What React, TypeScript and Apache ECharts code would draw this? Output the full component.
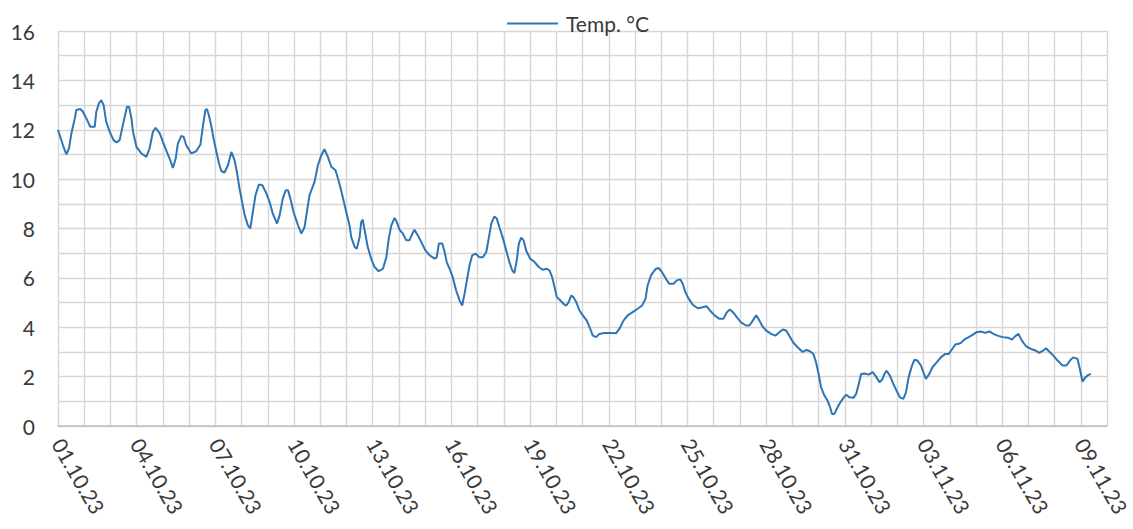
import React, { useEffect, useRef } from "react";
import * as echarts from "echarts";

// Day offset from 01.10.23 00:00 (in days) and temperature (°C)
const days = [
  0.0, 0.19, 0.32, 0.42, 0.51, 0.64, 0.7, 0.85, 0.95, 1.08, 1.23, 1.4, 1.46, 1.56, 1.65, 1.74, 1.84, 1.97,
  2.12, 2.23, 2.35, 2.5, 2.63, 2.71, 2.8, 2.86, 2.99, 3.18, 3.37, 3.49, 3.62, 3.72, 3.88, 4.0, 4.15, 4.28,
  4.38, 4.49, 4.57, 4.7, 4.79, 4.89, 5.08, 5.27, 5.43, 5.53, 5.62, 5.68, 5.75, 5.85, 5.93, 6.04, 6.14, 6.23,
  6.35, 6.48, 6.61, 6.73, 6.82, 6.92, 7.03, 7.12, 7.24, 7.33, 7.43, 7.53, 7.66, 7.79, 7.92, 8.07, 8.19, 8.35,
  8.45, 8.57, 8.68, 8.77, 8.86, 8.98, 9.15, 9.28, 9.4, 9.49, 9.59, 9.78, 9.91, 10.04, 10.16, 10.29, 10.42,
  10.58, 10.71, 10.84, 10.99, 11.12, 11.18, 11.31, 11.39, 11.5, 11.56, 11.62, 11.69, 11.81, 11.94, 12.07,
  12.23, 12.39, 12.52, 12.61, 12.71, 12.83, 12.92, 13.02, 13.15, 13.28, 13.4, 13.51, 13.59, 13.72, 13.85,
  14.01, 14.17, 14.36, 14.44, 14.52, 14.65, 14.74, 14.82, 14.93, 15.05, 15.18, 15.31, 15.41, 15.5, 15.59,
  15.69, 15.79, 15.92, 16.07, 16.2, 16.33, 16.43, 16.52, 16.64, 16.73, 16.83, 16.96, 17.09, 17.21, 17.32,
  17.4, 17.49, 17.57, 17.66, 17.75, 17.85, 18.0, 18.17, 18.33, 18.48, 18.64, 18.74, 18.84, 18.93, 19.02,
  19.15, 19.27, 19.38, 19.47, 19.57, 19.65, 19.76, 19.88, 20.01, 20.16, 20.29, 20.39, 20.52, 20.64, 20.83,
  21.09, 21.28, 21.41, 21.56, 21.72, 21.91, 22.1, 22.27, 22.4, 22.48, 22.61, 22.74, 22.8, 22.9, 23.03,
  23.19, 23.31, 23.47, 23.59, 23.72, 23.82, 23.92, 24.05, 24.2, 24.39, 24.58, 24.73, 24.86, 25.03, 25.22,
  25.37, 25.5, 25.62, 25.75, 25.88, 26.04, 26.23, 26.36, 26.49, 26.62, 26.71, 26.84, 26.99, 27.19, 27.35,
  27.5, 27.63, 27.76, 27.88, 28.04, 28.2, 28.39, 28.54, 28.67, 28.8, 28.9, 29.0, 29.09, 29.22, 29.34,
  29.44, 29.51, 29.6, 29.69, 29.79, 29.92, 30.05, 30.17, 30.33, 30.43, 30.53, 30.62, 30.74, 30.91, 31.06,
  31.19, 31.32, 31.42, 31.51, 31.59, 31.72, 31.85, 31.97, 32.1, 32.23, 32.33, 32.43, 32.56, 32.65, 32.77,
  32.9, 32.99, 33.09, 33.22, 33.34, 33.5, 33.66, 33.83, 33.96, 34.08, 34.21, 34.34, 34.43, 34.55, 34.72,
  34.87, 35.02, 35.19, 35.35, 35.51, 35.66, 35.82, 36.01, 36.24, 36.37, 36.5, 36.62, 36.75, 36.91, 37.1,
  37.26, 37.41, 37.57, 37.67, 37.79, 37.95, 38.11, 38.3, 38.45, 38.58, 38.71, 38.87, 38.96, 39.06, 39.17,
  39.29, 39.38,
];

const temps = [
  12.0, 11.37, 11.0, 11.25, 11.85, 12.46, 12.8, 12.84, 12.73, 12.46, 12.12, 12.12, 12.73, 13.07, 13.2, 13.0,
  12.32, 11.92, 11.58, 11.48, 11.58, 12.32, 12.93, 12.93, 12.46, 11.92, 11.31, 11.04, 10.9, 11.24, 11.92,
  12.08, 11.85, 11.51, 11.1, 10.77, 10.45, 10.84, 11.44, 11.75, 11.71, 11.37, 11.04, 11.13, 11.4, 12.19,
  12.8, 12.84, 12.6, 12.12, 11.65, 11.1, 10.63, 10.32, 10.27, 10.56, 11.1, 10.77, 10.29, 9.62, 9.01, 8.53,
  8.13, 8.0, 8.67, 9.35, 9.78, 9.75, 9.48, 9.07, 8.6, 8.2, 8.53, 9.21, 9.55, 9.55, 9.21, 8.67, 8.13, 7.79,
  8.06, 8.67, 9.35, 9.89, 10.56, 10.97, 11.21, 10.9, 10.5, 10.36, 9.89, 9.35, 8.67, 8.1, 7.65, 7.25, 7.18,
  7.65, 8.26, 8.36, 7.93, 7.25, 6.78, 6.44, 6.27, 6.37, 6.84, 7.59, 8.13, 8.43, 8.26, 7.95, 7.79, 7.52, 7.52,
  7.79, 7.95, 7.72, 7.45, 7.11, 6.91, 6.78, 6.84, 7.39, 7.39, 7.05, 6.64, 6.37, 6.03, 5.49, 5.09, 4.88, 5.36,
  5.9, 6.51, 6.91, 6.98, 6.84, 6.84, 7.05, 7.65, 8.2, 8.49, 8.4, 8.05, 7.62, 7.11, 6.64, 6.3, 6.19, 6.71,
  7.39, 7.63, 7.52, 7.11, 6.78, 6.64, 6.44, 6.33, 6.37, 6.3, 6.03, 5.63, 5.22, 5.09, 4.95, 4.88, 5.02, 5.29,
  5.22, 5.02, 4.68, 4.48, 4.27, 3.94, 3.66, 3.6, 3.73, 3.77, 3.77, 3.76, 3.94, 4.27, 4.48, 4.61, 4.75, 4.88,
  5.15, 5.69, 6.1, 6.3, 6.37, 6.4, 6.23, 5.94, 5.76, 5.76, 5.9, 5.94, 5.76, 5.42, 5.15, 4.91, 4.77, 4.81,
  4.85, 4.68, 4.48, 4.34, 4.34, 4.61, 4.72, 4.59, 4.41, 4.2, 4.07, 4.07, 4.27, 4.48, 4.34, 4.07, 3.87, 3.73,
  3.66, 3.8, 3.91, 3.87, 3.66, 3.37, 3.19, 3.0, 3.08, 3.03, 2.92, 2.58, 2.11, 1.57, 1.23, 1.03, 0.75, 0.49,
  0.49, 0.69, 0.89, 1.1, 1.27, 1.16, 1.14, 1.3, 1.7, 2.11, 2.13, 2.08, 2.18, 2.0, 1.77, 1.87, 2.11, 2.24,
  2.04, 1.7, 1.43, 1.16, 1.1, 1.36, 1.97, 2.45, 2.68, 2.65, 2.45, 2.18, 1.91, 2.11, 2.38, 2.58, 2.78, 2.92,
  2.92, 3.1, 3.3, 3.33, 3.37, 3.5, 3.6, 3.69, 3.8, 3.83, 3.77, 3.83, 3.73, 3.66, 3.6, 3.57, 3.5, 3.64, 3.73,
  3.46, 3.23, 3.12, 3.06, 2.96, 3.06, 3.15, 3.02, 2.85, 2.65, 2.45, 2.45, 2.65, 2.78, 2.72, 2.31, 1.8, 1.97,
  2.07, 2.11,
];

// Tick labels every 3 days, starting on day 0
const dateLabels = [
  "01.10.23", "04.10.23", "07.10.23", "10.10.23", "13.10.23", "16.10.23", "19.10.23",
  "22.10.23", "25.10.23", "28.10.23", "31.10.23", "03.11.23", "06.11.23", "09.11.23",
];

const yTicks = [0, 2, 4, 6, 8, 10, 12, 14, 16];

const seriesName = "Temp. °C";

export default function App() {
  const ref = useRef<HTMLDivElement>(null);

  useEffect(() => {
    document.body.style.margin = "0";
    if (!ref.current) return;
    const chart = echarts.init(ref.current, null, { renderer: "svg" });
    const FONT = "Lato";
    const TXT = "#3a3a3a";
    const GRID = "#d6d6d6";
    chart.setOption({
      animation: false,
      backgroundColor: "#ffffff",
      textStyle: { fontFamily: FONT },
      legend: {
        show: true,
        left: 507,
        top: 13,
        padding: 0,
        itemWidth: 51,
        itemHeight: 2,
        itemGap: 8,
        icon: "rect",
        textStyle: { fontFamily: FONT, fontSize: 21, color: TXT, padding: [0, 0, 0, 3] },
        data: [seriesName],
      },
      grid: { left: 58, right: 25, top: 31, bottom: 103, containLabel: false },
      xAxis: {
        type: "value",
        min: 0,
        max: 40,
        interval: 1,
        axisLine: { show: true, lineStyle: { color: "#bfbfbf", width: 1.5 } },
        axisTick: { show: false },
        splitLine: { show: true, lineStyle: { color: GRID, width: 1.4 } },
        axisLabel: {
          rotate: -60,
          margin: 14,
          fontFamily: FONT,
          fontSize: 21,
          color: TXT,
          showMinLabel: true,
          showMaxLabel: true,
          formatter: (v: number) => {
            const r = Math.round(v);
            if (r % 3 !== 0) return "";
            return dateLabels[r / 3] ?? "";
          },
        },
      },
      yAxis: {
        type: "value",
        min: 0,
        max: 16,
        interval: 1,
        axisLine: { show: false },
        axisTick: { show: false },
        splitLine: { show: true, lineStyle: { color: GRID, width: 1.4 } },
        axisLabel: {
          margin: 23,
          fontFamily: FONT,
          fontSize: 21,
          color: TXT,
          formatter: (v: number) => (yTicks.includes(v) ? String(v) : ""),
        },
      },
      series: [
        {
          name: seriesName,
          type: "line",
          data: days.map((d, i) => [d, temps[i]]),
          symbol: "none",
          showSymbol: false,
          lineStyle: { color: "#2E75B6", width: 2 },
          itemStyle: { color: "#2E75B6" },
        },
      ],
    });
    return () => chart.dispose();
  }, []);

  return <div ref={ref} style={{ width: 1133, height: 529 }} />;
}
